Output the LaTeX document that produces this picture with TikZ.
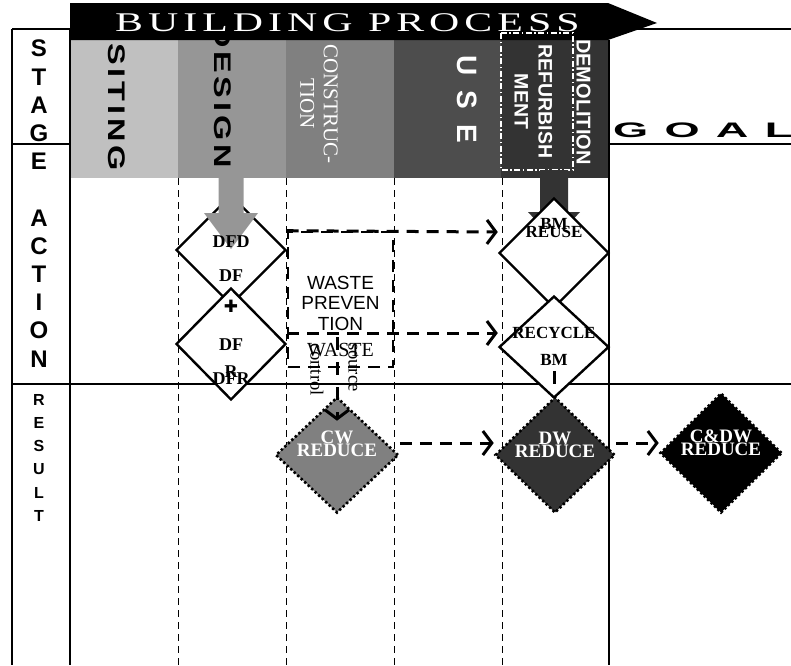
\documentclass[tikz,border=0pt]{standalone}
\usepackage{fontspec}
\setmainfont{Liberation Serif}
\setsansfont{Liberation Sans}
\newfontfamily\symfont{DejaVu Sans}
\usepackage{graphicx}
\usetikzlibrary{shapes.geometric,arrows.meta}
\definecolor{sitingc}{HTML}{C0C0C0}
\definecolor{designc}{HTML}{969696}
\definecolor{constrc}{HTML}{808080}
\definecolor{usec}{HTML}{4D4D4D}
\definecolor{refurbc}{HTML}{333333}

\begin{document}
\begin{tikzpicture}[x=1pt,y=-1pt,
    stagelbl/.style={rotate=-90,anchor=west,inner sep=0pt},
    choice/.style={diamond,draw,line width=2.4pt,fill=white,inner sep=0pt},
    outcome/.style={diamond,draw,line width=2.6pt,dash pattern=on 2.4pt off 2.4pt,inner sep=0pt},
    dtext/.style={inner sep=0pt,font=\bfseries\fontsize{18}{18}\selectfont},
    flow/.style={line width=3pt,dash pattern=on 12pt off 8pt,-{Straight Barb[length=9pt,width=24pt]}},
    divider/.style={line width=1pt,dash pattern=on 7pt off 5pt}]
  \useasboundingbox (0,0) rectangle (791,665);
  \draw[line width=1.2pt] (12,29) -- (791,29) (12,144) -- (791,144) (12,384) -- (791,384);
  \fill[sitingc] (70,40) rectangle (178,178);
  \fill[designc] (178,40) rectangle (286,178);
  \fill[constrc] (286,40) rectangle (394,178);
  \fill[usec] (394,40) rectangle (501,178);
  \fill[refurbc] (501,40) rectangle (609,178);
  \draw[line width=1.2pt] (12,29) -- (12,665) (70,29) -- (70,665) (609,40) -- (609,665);
  \foreach \x in {178,286,394,502}
    \draw[divider] (\x,178) -- (\x,665);

  \node[stagelbl,font=\sffamily\bfseries\fontsize{24}{24}\selectfont] (siting) at (117,43) {\scalebox{1.35}[1]{\addfontfeature{LetterSpace=12}SITING}};
  \node[stagelbl,font=\sffamily\bfseries\fontsize{24}{24}\selectfont] (design) at (223,24) {\scalebox{1.35}[1]{\addfontfeature{LetterSpace=12}DESIGN}};
  \node[rotate=-90,align=center,inner sep=0pt,text=white,font=\fontsize{21}{23.5}\selectfont] (constr) at (319,104) {CONSTRUC-\\TION};
  \node[stagelbl,text=white,font=\sffamily\bfseries\fontsize{28}{28}\selectfont\addfontfeature{LetterSpace=55}] (use) at (467,55) {USE};
  \node[rotate=-90,align=center,inner sep=0pt,text=white,font=\sffamily\bfseries\fontsize{19.5}{24}\selectfont] (refurb) at (533.5,101.5) {REFURBISH\\MENT};
  \node[stagelbl,text=white,font=\sffamily\bfseries\fontsize{20}{20}\selectfont] (demol) at (583.5,39) {DEMOLITION};

  \fill (70,3) -- (608,3) -- (657,23) -- (608,40) -- (70,40) -- cycle;
  \node[anchor=west,inner sep=0pt,text=white,font=\fontsize{27}{27}\selectfont] (process) at (115,22.5) {\scalebox{1.55}[1]{\addfontfeature{LetterSpace=12}BUILDING PROCESS}};
  \draw[white,line width=1.2pt,dash pattern=on 6pt off 2.5pt on 1.5pt off 2.5pt] (501,33) rectangle (573,170);
  \node[anchor=west,inner sep=0pt] (goal) at (613,130) {\scalebox{2.15}[1]{\sffamily\bfseries\fontsize{21}{21}\selectfont\addfontfeature{LetterSpace=36}GOAL}};

  \node[font=\sffamily\bfseries\fontsize{24}{28.2}\selectfont,align=center,anchor=north,inner sep=0pt] (stagecol) at (39,40) {S\\T\\A\\G\\E\\[28.2pt]A\\C\\T\\I\\O\\N};
  \node[font=\sffamily\bfseries\fontsize{16}{23.2}\selectfont,align=center,anchor=north,inner sep=0pt] (resultcol) at (39,394) {R\\E\\S\\U\\L\\T};

  \node[draw,line width=2.6pt,dash pattern=on 12pt off 8pt,minimum width=105pt,minimum height=135pt] (prevent) at (340.5,299.5) {};
  \node[align=center,inner sep=0pt,font=\sffamily\fontsize{19}{20.5}\selectfont] (preventtxt) at (340.5,303) {WASTE\\PREVEN\\TION};

  \node[choice,minimum width=110pt,minimum height=110pt] (dfd) at (231,250) {};
  \begin{scope}
    \clip (200,262) rectangle (264,280);
    \node[dtext] at (231,276) {DF};
  \end{scope}
  \node[choice,minimum width=110pt,minimum height=112pt] (dfr) at (231,344) {};
  \fill[designc] (218.5,178) -- (243.5,178) -- (243.5,213) -- (258,213) -- (231,249) -- (204,213) -- (218.5,213) -- cycle;
  \node[dtext] at (231,242) {DFD};
  \node[inner sep=0pt,font=\symfont\fontsize{17}{17}\selectfont] at (231,306) {✚};
  \node[dtext] at (231,345) {DF};
  \node[dtext] at (231,372) {R};
  \node[dtext] at (231,379) {DFR};

  \fill[refurbc] (540,170) -- (568,170) -- (568,212) -- (580,212) -- (554,240) -- (528,212) -- (540,212) -- cycle;
  \node[choice,minimum width=110pt,minimum height=110pt] (reuse) at (554,253) {};
  \node[choice,minimum width=110pt,minimum height=102pt] (recycle) at (554,347) {};
  \node[dtext,font=\bfseries\fontsize{17}{17}\selectfont] at (554,224) {BM};
  \node[dtext,font=\bfseries\fontsize{17}{17}\selectfont] at (554,232) {REUSE};
  \node[dtext,font=\bfseries\fontsize{17}{17}\selectfont] at (554,333) {RECYCLE};
  \node[dtext,font=\bfseries\fontsize{17}{17}\selectfont] at (554,360) {BM};
  \draw[line width=3pt] ([yshift=28pt]recycle.south) -- ([yshift=15pt]recycle.south);

  \node[inner sep=0pt,font=\fontsize{20}{20}\selectfont] at (340.5,350) {WASTE};
  \node[stagelbl,font=\fontsize{18.5}{18.5}\selectfont] at (317,343) {control};
  \node[stagelbl,font=\fontsize{18.5}{18.5}\selectfont] at (353,343) {source};

  \node[outcome,fill=constrc,minimum width=123pt,minimum height=116pt] (cw) at (337,455) {};
  \node[outcome,fill=refurbc,minimum width=120pt,minimum height=116pt] (dw) at (555,455) {};
  \node[outcome,fill=black,minimum width=122pt,minimum height=120pt] (cdw) at (721,453) {};
  \node[dtext,text=white,font=\bfseries\fontsize{19}{19}\selectfont] at (337,437) {CW};
  \node[dtext,text=white,font=\bfseries\fontsize{19}{19}\selectfont] at (337,450) {REDUCE};
  \node[dtext,text=white,font=\bfseries\fontsize{19}{19}\selectfont] at (555,438) {DW};
  \node[dtext,text=white,font=\bfseries\fontsize{19}{19}\selectfont] at (555,451) {REDUCE};
  \node[dtext,text=white,font=\bfseries\fontsize{19}{19}\selectfont] at (721,436) {C\&DW};
  \node[dtext,text=white,font=\bfseries\fontsize{19}{19}\selectfont] at (721,449) {REDUCE};

  \coordinate (src) at (337,337);
  \draw[flow] (prevent.north west) -- ([yshift=21pt]reuse.west);
  \draw[flow] ([yshift=11pt]dfr.east) -- ([yshift=14pt]recycle.west);
  \draw[flow,dash pattern=on 13pt off 12pt] (src) -- ([yshift=-25pt]cw.north);
  \draw[flow] ([yshift=12pt]cw.east) -- ([yshift=12pt]dw.west);
  \draw[flow] ([yshift=12pt]dw.east) -- ([yshift=10pt]cdw.west);
\end{tikzpicture}
\end{document}
